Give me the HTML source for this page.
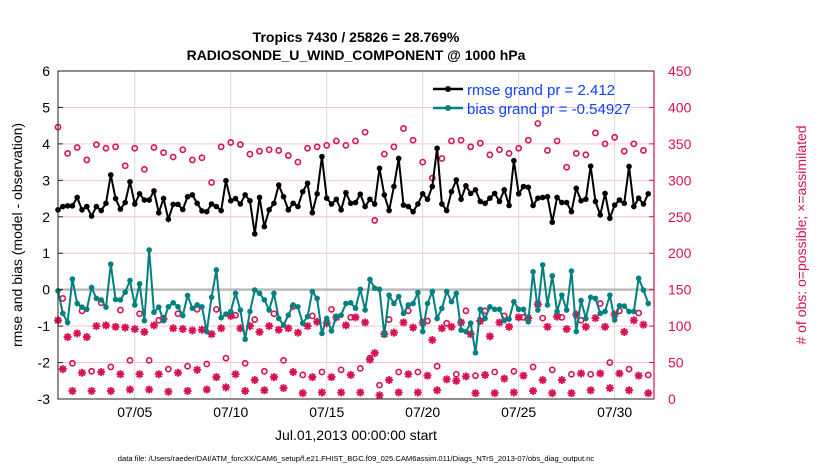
<!DOCTYPE html>
<html><head><meta charset="utf-8">
<style>
html,body{margin:0;padding:0;background:#fff;}
svg{display:block;font-family:"Liberation Sans",Arial,sans-serif;}
</style></head>
<body>
<svg id="chart" width="830" height="470" viewBox="0 0 830 470">
  <text x="356" y="42" text-anchor="middle" font-size="14" font-weight="bold">Tropics 7430 / 25826 = 28.769%</text>
  <text x="356" y="60" text-anchor="middle" font-size="14" font-weight="bold">RADIOSONDE_U_WIND_COMPONENT @ 1000 hPa</text>
  <g id="grid"></g>
  <g id="marks"></g>
  <g id="axes"></g>
  <text transform="translate(22,235) rotate(-90)" text-anchor="middle" font-size="14">rmse and bias (model - observation)</text>
  <text transform="translate(806,235) rotate(-90)" text-anchor="middle" font-size="14" fill="#d6124f"># of obs: o=possible; ×=assimilated</text>
  <text x="356" y="440" text-anchor="middle" font-size="14">Jul.01,2013 00:00:00 start</text>
  <text x="356" y="461" text-anchor="middle" font-size="7.6">data file: /Users/raeder/DAI/ATM_forcXX/CAM6_setup/f.e21.FHIST_BGC.f09_025.CAM6assim.011/Diags_NTrS_2013-07/obs_diag_output.nc</text>
  <g>
    <line x1="433" y1="89" x2="463" y2="89" stroke="#000" stroke-width="2.5"/>
    <circle cx="448" cy="89" r="3" fill="#000"/>
    <text x="467" y="95" font-size="15" fill="#1040ff">rmse grand pr = 2.412</text>
    <line x1="433" y1="108" x2="463" y2="108" stroke="#008080" stroke-width="2.5"/>
    <circle cx="448" cy="108" r="3" fill="#008080"/>
    <text x="467" y="114" font-size="15" fill="#1040ff">bias grand pr = -0.54927</text>
  </g>
</svg>
<script>
const rmse = [2.19,2.28,2.3,2.3,2.53,2.19,2.28,2.02,2.28,2.17,2.37,3.15,2.5,2.21,2.39,2.96,2.35,2.63,2.46,2.46,2.71,2.11,2.5,1.93,2.34,2.34,2.2,2.55,2.6,2.37,2.16,2.14,2.35,2.28,2.17,2.99,2.44,2.5,2.35,2.6,2.44,1.53,
2.53,1.73,2.19,2.37,2.87,2.55,2.19,2.37,2.28,2.69,2.92,2.11,2.63,3.65,2.51,2.35,2.48,2.19,2.66,2.37,2.39,2.62,2.28,2.48,2.35,3.33,2.6,2.17,2.83,3.6,2.32,2.28,2.14,2.35,2.63,2.48,2.83,3.88,2.35,2.17,2.69,3.01,
2.48,2.85,2.64,2.74,2.42,2.37,2.51,2.64,2.42,2.74,2.31,3.54,2.63,2.83,2.81,2.31,2.51,2.53,2.55,1.85,2.53,2.39,2.39,2.14,2.78,2.44,2.48,3.39,2.42,2.05,2.64,1.96,2.32,2.46,2.37,3.38,2.28,2.51,2.35,2.63];
const bias = [-0.03,-0.65,-0.9,0.29,-0.38,-0.48,-0.54,0.06,-0.24,-0.28,-0.48,0.7,-0.27,-0.28,-0.07,0.25,-0.42,0.16,-0.85,1.09,-0.62,-0.48,-0.85,-0.47,-0.36,-0.47,-0.71,-0.16,-0.51,-0.42,-0.47,-1.15,-0.21,0.54,-0.77,-0.67,-0.6,-0.1,-0.56,-1.36,-0.6,-0.01,
-0.1,-0.28,-0.56,-0.1,-0.79,-0.97,-0.7,-0.42,-0.47,-0.92,-0.74,-0.05,-0.24,-1.2,-0.79,-1.13,-0.74,-0.7,-0.38,-0.36,-0.51,0.01,-0.56,0.28,0.04,0.01,-1.24,-0.15,-0.38,-0.19,-0.65,-0.42,-0.38,-0.08,-1.15,-0.38,-0.05,-0.79,-0.51,-0.05,-0.33,-0.1,
-1.11,-1.15,-0.92,-1.73,-0.54,-0.79,-0.47,-0.54,-0.54,-0.85,-0.81,-0.33,-0.54,-0.54,-0.88,0.49,-0.56,0.68,-0.42,0.38,-0.6,-0.15,-0.56,0.51,-1.15,-0.3,-0.79,-0.21,-0.24,-0.65,-0.6,-0.15,-0.83,-0.44,-0.45,-0.6,-0.6,0.31,-0.01,-0.38];
const possible = [373,138,337,49,345,121,328,38,349,132,344,44,346,122,320,53,344,117,315,53,345,108,338,41,332,117,342,45,328,123,331,48,297,123,346,56,352,115,349,49,336,109,340,38,342,117,341,53,334,127,325,33,344,114,346,37,348,123,354,40,348,112,354,42,366,56,245,19,336,109,346,37,371,121,355,37,325,107,303,45,330,104,354,34,355,121,346,32,351,121,335,37,342,114,337,38,344,112,355,44,378,111,341,40,354,112,318,34,337,108,335,34,365,131,350,50,359,121,340,41,350,118,341,33];
const assimilated = [108,41,85,11,90,36,85,11,100,37,101,11,99,34,98,13,96,34,92,13,101,34,110,10,97,36,96,11,94,40,95,13,89,30,97,16,114,34,97,11,100,26,92,12,100,30,95,15,97,37,91,8,100,30,106,9,104,30,112,9,101,33,112,9,105,54,63,5,89,26,91,9,105,34,98,9,105,32,81,12,97,27,99,25,105,31,89,8,107,33,86,8,105,28,99,9,112,32,111,11,130,26,99,8,113,26,96,8,116,35,99,12,111,35,99,15,116,35,92,12,108,32,102,8];
const leftTicks = [-3,-2,-1,0,1,2,3,4,5,6];
const rightTicks = [0,50,100,150,200,250,300,350,400,450];
const dateTicks = ["07/05","07/10","07/15","07/20","07/25","07/30"];
const dateTickDays = [4,9,14,19,24,29];
const stepDays = 0.25;

const L=58,R=654,T=71,B=399, XMAX=31.05;
const NS="http://www.w3.org/2000/svg";
const xS=d=>L+(d/XMAX)*(R-L);
const yL=v=>B-(v+3)/9*(B-T);
const yR=n=>B-n/450*(B-T);
const CR="#d6124f";
function mk(tag,attrs,parent){const e=document.createElementNS(NS,tag);for(const k in attrs)e.setAttribute(k,attrs[k]);parent.appendChild(e);return e;}
const grid=document.getElementById('grid'),marks=document.getElementById('marks'),axes=document.getElementById('axes');

leftTicks.forEach(v=>{
  const g=mk('line',{x1:L,x2:R,y1:yL(v),y2:yL(v),stroke:'#f5c6d6','stroke-width':1},grid);
  
  
  const t=mk('text',{x:L-8,y:yL(v)+5,'text-anchor':'end','font-size':14},axes);
  t.textContent=v;
  
  
  mk('line',{x1:L,x2:L+5,y1:yL(v),y2:yL(v),stroke:'#222'},axes);
});
rightTicks.forEach(n=>{
  const t=mk('text',{x:R+14,y:yR(n)+5,'font-size':14,fill:CR},axes);
  t.textContent=n;
  
  
  mk('line',{x1:R-5,x2:R,y1:yR(n),y2:yR(n),stroke:CR},axes);
});
dateTicks.forEach((lab,k)=>{
  const x=xS(dateTickDays[k]);
  const g=mk('line',{x1:x,x2:x,y1:T,y2:B,stroke:'#d8d8d8','stroke-width':1},grid);
  
  
  const t=mk('text',{x:x,y:417,'text-anchor':'middle','font-size':14},axes);
  t.textContent=lab;
  
  
});
const zl=mk('line',{x1:L,x2:R,y1:yL(0),y2:yL(0),stroke:'#bbbbbb','stroke-width':2.5},grid);



possible.forEach((n,i)=>{
  const c=mk('circle',{cx:xS(i*stepDays),cy:yR(n),r:2.6,fill:'none',stroke:CR,'stroke-width':1.6},marks);
  
  
});
assimilated.forEach((n,i)=>{
  const x=xS(i*stepDays),y=yR(n),a=4,b=2.9;
  const d=`M${x-a},${y}H${x+a}M${x},${y-a}V${y+a}M${x-b},${y-b}L${x+b},${y+b}M${x-b},${y+b}L${x+b},${y-b}`;
  const p=mk('path',{d:d,stroke:CR,'stroke-width':1.9,fill:'none'},marks);
  
  
});
function series(vals,color,name){
  const pts=vals.map((v,i)=>xS(i*stepDays)+','+yL(v)).join(' ');
  const p=mk('polyline',{points:pts,fill:'none',stroke:color,'stroke-width':2},marks);
  
  
  vals.forEach((v,i)=>{
    const c=mk('circle',{cx:xS(i*stepDays),cy:yL(v),r:2.8,fill:color},marks);
    
    
  });
}
series(bias,'#008080','bias');
series(rmse,'#000000','rmse');

const fr=mk('rect',{x:L,y:T,width:R-L,height:B-T,fill:'none',stroke:'#222','stroke-width':1},axes);


const ra=mk('line',{x1:R,x2:R,y1:T,y2:B,stroke:CR,'stroke-width':1.2},axes);


</script>
</body></html>
